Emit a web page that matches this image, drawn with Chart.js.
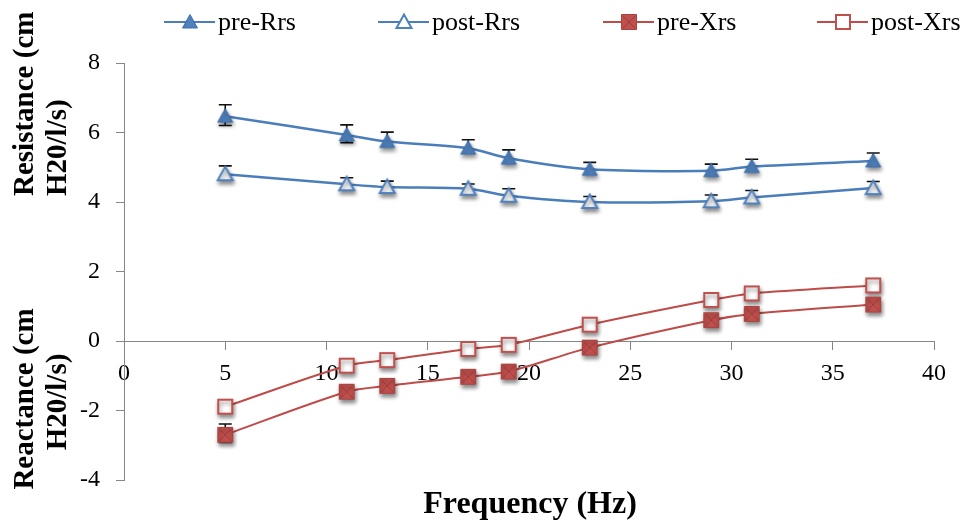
<!DOCTYPE html>
<html>
<head>
<meta charset="utf-8">
<script src="https://cdn.jsdelivr.net/npm/chart.js@4"></script>
<style>
  html, body { margin: 0; padding: 0; background: #fff; }
  #wrap { width: 969px; height: 524px; position: relative; }
</style>
</head>
<body>
<div id="wrap"><canvas id="oscChart"></canvas></div>
<script>
  // Frequencies (Hz)
  const freqs = [5, 11, 13, 17, 19, 23, 29, 31, 37];

  // Resistance / reactance, cm H20/l/s
  const preRrs  = [6.47, 5.93, 5.74, 5.55, 5.26, 4.94, 4.90, 5.02, 5.18];
  const postRrs = [4.80, 4.51, 4.43, 4.38, 4.18, 4.00, 4.02, 4.13, 4.40];
  const preXrs  = [-2.70, -1.46, -1.29, -1.03, -0.88, -0.19, 0.60, 0.78, 1.05];
  const postXrs = [-1.89, -0.71, -0.55, -0.23, -0.11, 0.47, 1.18, 1.37, 1.60];

  // error bars (plus / minus)
  const preRrsErrUp    = [0.33, 0.29, 0.27, 0.24, 0.24, 0.20, 0.19, 0.21, 0.23];
  const preRrsErrDown  = [0.27, 0.22, 0, 0, 0, 0, 0, 0, 0];
  const postRrsErrUp   = [0.24, 0.19, 0.17, 0.14, 0.20, 0.16, 0.18, 0.20, 0.19];
  const postRrsErrDown = [0, 0, 0, 0, 0, 0, 0, 0, 0];
  const preXrsErrUp    = [0.31, 0, 0, 0, 0, 0, 0, 0, 0];
  const preXrsErrDown  = [0.22, 0, 0, 0, 0, 0, 0, 0, 0];

  const xTicks = [0, 5, 10, 15, 20, 25, 30, 35, 40];
  const yTicks = [-4, -2, 0, 2, 4, 6, 8];

  const BLUE = '#4A7EBB';
  const BLUE_FILL = '#4F81BD';
  const RED = '#BE4B48';
  const RED_FILL = '#C0504D';
  const SERIF = '"Liberation Serif", "Times New Roman", serif';

  // marker shapes, shared by points and legend
  function shape(g, kind, cx, cy) {
    g.beginPath();
    if (kind === 'triFill' || kind === 'triOpen') {
      g.moveTo(cx, cy - 7.5);
      g.lineTo(cx + 7.5, cy + 6);
      g.lineTo(cx - 7.5, cy + 6);
      g.closePath();
      if (kind === 'triFill') {
        g.fillStyle = BLUE_FILL; g.fill();
        g.lineWidth = 1; g.strokeStyle = '#3C6EAA'; g.stroke();
      } else {
        g.fillStyle = '#fff'; g.fill();
        g.lineWidth = 2; g.strokeStyle = BLUE_FILL; g.stroke();
      }
    } else if (kind === 'sqFill') {
      g.rect(cx - 7.5, cy - 7.5, 15, 15);
      g.fillStyle = RED_FILL; g.fill();
      g.lineWidth = 1; g.strokeStyle = '#A84340'; g.stroke();
      g.shadowColor = 'transparent';
      g.beginPath();
      g.moveTo(cx - 6, cy - 6); g.lineTo(cx + 6, cy + 6);
      g.moveTo(cx + 6, cy - 6); g.lineTo(cx - 6, cy + 6);
      g.lineWidth = 1; g.strokeStyle = 'rgba(110,35,35,0.45)'; g.stroke();
    } else {
      g.rect(cx - 7, cy - 7, 14, 14);
      g.fillStyle = '#fff'; g.fill();
      g.lineWidth = 2; g.strokeStyle = RED_FILL; g.stroke();
    }
  }

  // point image with a soft drop shadow
  function markerImage(kind) {
    const c = document.createElement('canvas');
    c.width = 34; c.height = 34;
    const g = c.getContext('2d');
    g.shadowColor = 'rgba(0,0,0,0.45)';
    g.shadowBlur = 4;
    g.shadowOffsetX = 1;
    g.shadowOffsetY = 3;
    shape(g, kind, 17, 17);
    return c;
  }

  const toXY = vals => vals.map((v, i) => ({ x: freqs[i], y: v }));

  const series = [
    { label: 'pre-Rrs',  values: preRrs,  color: BLUE, width: 2.5, marker: 'triFill', up: preRrsErrUp,  down: preRrsErrDown },
    { label: 'post-Rrs', values: postRrs, color: BLUE, width: 2.5, marker: 'triOpen', up: postRrsErrUp, down: postRrsErrDown },
    { label: 'pre-Xrs',  values: preXrs,  color: RED,  width: 2,   marker: 'sqFill',  up: preXrsErrUp,  down: preXrsErrDown },
    { label: 'post-Xrs', values: postXrs, color: RED,  width: 2,   marker: 'sqOpen',  up: null, down: null }
  ];

  // left edge of each legend entry
  const legendX = [164, 378, 603, 817];

  // error bars, drawn under the markers
  const errorBars = {
    id: 'errorBars',
    beforeDatasetsDraw(chart) {
      const { ctx, scales: { x, y } } = chart;
      ctx.save();
      ctx.strokeStyle = '#111';
      ctx.lineWidth = 1.6;
      series.forEach(s => {
        if (!s.up) return;
        s.values.forEach((v, i) => {
          const px = x.getPixelForValue(freqs[i]);
          const py = y.getPixelForValue(v);
          [[s.up[i], 1], [s.down[i], -1]].forEach(([e, dir]) => {
            if (!e) return;
            const pe = y.getPixelForValue(v + dir * e);
            ctx.beginPath();
            ctx.moveTo(px, py); ctx.lineTo(px, pe);
            ctx.moveTo(px - 6.5, pe); ctx.lineTo(px + 6.5, pe);
            ctx.stroke();
          });
        });
      });
      ctx.restore();
    }
  };

  // legend row, axis titles
  const labels = {
    id: 'labels',
    afterDraw(chart) {
      const ctx = chart.ctx;
      ctx.save();

      ctx.font = '26px ' + SERIF;
      ctx.textBaseline = 'middle';
      ctx.textAlign = 'left';
      const ly = 22;
      series.forEach((s, i) => {
        const lx = legendX[i];
        ctx.strokeStyle = s.color;
        ctx.lineWidth = 2;
        ctx.beginPath();
        ctx.moveTo(lx, ly); ctx.lineTo(lx + 51, ly);
        ctx.stroke();
        shape(ctx, s.marker, lx + 26, ly);
        ctx.fillStyle = '#000';
        ctx.fillText(s.label, lx + 54, ly + 1);
      });

      ctx.fillStyle = '#000';
      ctx.font = 'bold 32px ' + SERIF;
      ctx.textAlign = 'center';
      ctx.textBaseline = 'alphabetic';
      ctx.fillText('Frequency (Hz)', 530, 513);

      ctx.font = 'bold 29px ' + SERIF;
      const vert = (text, bx, by, align) => {
        ctx.save();
        ctx.translate(bx, by);
        ctx.rotate(-Math.PI / 2);
        ctx.textAlign = align;
        ctx.fillText(text, 0, 0);
        ctx.restore();
      };
      vert('Resistance (cm', 33, 196, 'left');
      vert('H20/l/s)', 66, 196, 'left');
      vert('Reactance (cm', 33, 399, 'center');
      vert('H20/l/s)', 66, 402, 'center');

      ctx.restore();
    }
  };

  const ctx = document.getElementById('oscChart').getContext('2d');
  const chart = new Chart(ctx, {
    type: 'line',
    data: {
      datasets: series.map(s => ({
        label: s.label,
        data: toXY(s.values),
        borderColor: s.color,
        borderWidth: s.width,
        backgroundColor: s.color,
        tension: 0.3,
        pointStyle: markerImage(s.marker),
        pointRadius: 8,
        pointHoverRadius: 8,
        fill: false
      }))
    },
    options: {
      responsive: true,
      maintainAspectRatio: false,
      animation: false,
      layout: { padding: { left: 0, right: 35, top: 63, bottom: 44 } },
      plugins: {
        legend: { display: false },
        tooltip: { enabled: false }
      },
      scales: {
        x: {
          type: 'linear',
          min: 0,
          max: 40,
          position: { y: 0 },
          afterBuildTicks: axis => { axis.ticks = xTicks.map(v => ({ value: v })); },
          grid: { drawOnChartArea: false, tickLength: 8, color: '#868686' },
          border: { color: '#868686', width: 1 },
          ticks: { color: '#000', font: { family: SERIF, size: 24 }, padding: 10, maxRotation: 0 }
        },
        y: {
          min: -4,
          max: 8,
          afterBuildTicks: axis => { axis.ticks = yTicks.map(v => ({ value: v })); },
          afterFit: axis => { axis.width = 124; },
          grid: { drawOnChartArea: false, tickLength: 8, color: '#868686' },
          border: { color: '#868686', width: 1 },
          ticks: { color: '#000', font: { family: SERIF, size: 24 }, padding: 16 }
        }
      }
    },
    plugins: [errorBars, labels]
  });
</script>
</body>
</html>
